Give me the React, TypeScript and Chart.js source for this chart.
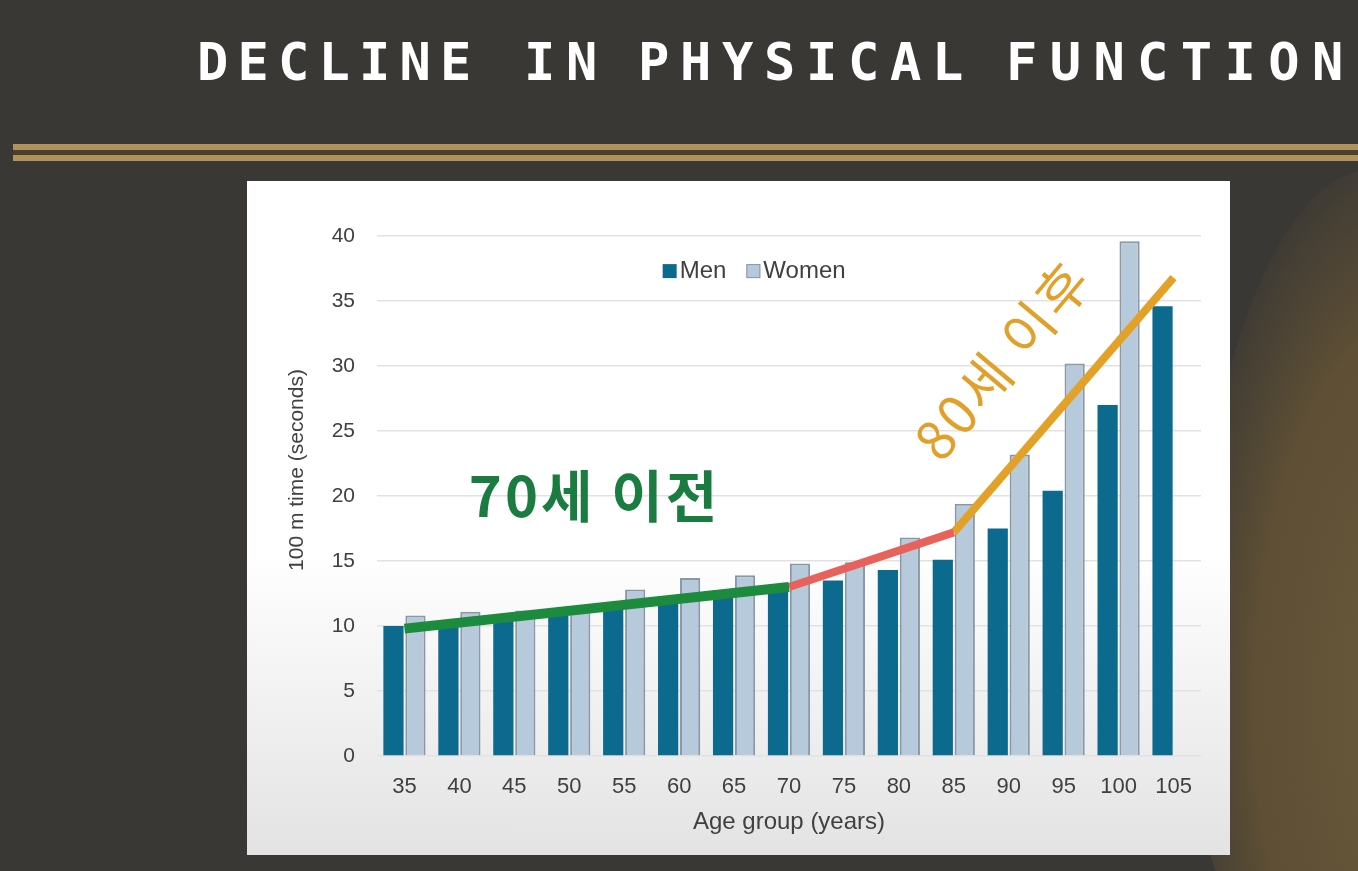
import React, { useEffect, useRef } from 'react';
import { Chart, registerables } from 'chart.js';

Chart.register(...registerables);

const ageGroups = ['35', '40', '45', '50', '55', '60', '65', '70', '75', '80', '85', '90', '95', '100', '105'];
const menTimes = [10.0, 10.4, 10.7, 11.0, 11.5, 12.0, 12.3, 12.7, 13.5, 14.3, 15.1, 17.5, 20.4, 27.0, 34.6];
const womenTimes = [10.8, 11.1, 11.2, 11.3, 12.8, 13.7, 13.9, 14.8, 14.9, 16.8, 19.4, 23.2, 30.2, 39.6, null];
// trend segments drawn over the bars (endpoints only, gaps spanned)
const before70 = [9.8, null, null, null, null, null, null, 13.0, null, null, null, null, null, null, null];
const from70to85 = [null, null, null, null, null, null, null, 13.0, null, null, 17.2, null, null, null, null];
const after80 = [null, null, null, null, null, null, null, null, null, null, 17.2, null, null, null, 36.8];
const yTicks = [0, 5, 10, 15, 20, 25, 30, 35, 40];

const MEN = '#0b6a8d';
const WOMEN = '#b6cadb';
const WOMEN_EDGE = '#8a98a6';
const TEXT = '#404040';
const FONT = '"Liberation Sans", Arial, sans-serif';

const overlayPlugin = {
    id: 'overlay',
    afterDatasetsDraw(chart: any) {
        const { ctx, scales, chartArea } = chart;
        const x = scales.x;
        const y = scales.y;
        ctx.save();

        // y axis title
        ctx.save();
        ctx.translate(chartArea.left - 80, y.getPixelForValue(22));
        ctx.rotate(-Math.PI / 2);
        ctx.font = `21px ${FONT}`;
        ctx.fillStyle = TEXT;
        ctx.textAlign = 'center';
        ctx.textBaseline = 'middle';
        ctx.fillText('100 m time (seconds)', 0, 0);
        ctx.restore();

        // legend inside the plot
        ctx.font = `24px ${FONT}`;
        ctx.textBaseline = 'middle';
        ctx.textAlign = 'left';
        const ly = y.getPixelForValue(37.3);
        let lx = x.getPixelForValue(4.7);
        ctx.fillStyle = MEN;
        ctx.fillRect(lx, ly - 7, 14, 14);
        ctx.fillStyle = TEXT;
        ctx.fillText('Men', lx + 17, ly);
        lx += 17 + ctx.measureText('Men').width + 20;
        ctx.fillStyle = WOMEN;
        ctx.strokeStyle = WOMEN_EDGE;
        ctx.lineWidth = 1;
        ctx.fillRect(lx, ly - 7, 14, 14);
        ctx.strokeRect(lx + 0.5, ly - 6.5, 13, 13);
        ctx.fillStyle = TEXT;
        ctx.fillText('Women', lx + 17, ly);

        // annotations
        ctx.font = 'bold 56px "Noto Sans CJK KR", sans-serif';
        (ctx as any).letterSpacing = '3px';
        ctx.textAlign = 'center';
        ctx.fillStyle = '#1a7c40';
        ctx.fillText('70세 이전', x.getPixelForValue(3.46), y.getPixelForValue(20.0));

        ctx.translate(x.getPixelForValue(10.89), y.getPixelForValue(30.5));
        ctx.rotate(-50 * Math.PI / 180);
        ctx.font = '54px "Noto Sans CJK KR", sans-serif';
        ctx.fillStyle = '#e0a02a';
        ctx.fillText('80세 이후', 0, 0);
        ctx.restore();
    },
};

const AgeChart: React.FC = () => {
    const canvasRef = useRef<HTMLCanvasElement>(null);

    useEffect(() => {
        if (!canvasRef.current) return;
        const ctx = canvasRef.current.getContext('2d');
        if (!ctx) return;

        const trend = (data: (number | null)[], color: string, width: number) => ({
            type: 'line' as const,
            data,
            borderColor: color,
            borderWidth: width,
            pointRadius: 0,
            spanGaps: true,
            fill: false,
            order: 0,
            borderCapStyle: 'butt' as const,
        });

        const chart = new Chart(ctx, {
            type: 'bar',
            data: {
                labels: ageGroups,
                datasets: [
                    {
                        label: 'Men',
                        data: menTimes,
                        backgroundColor: MEN,
                        borderWidth: 0,
                        order: 1,
                    },
                    {
                        label: 'Women',
                        data: womenTimes,
                        backgroundColor: WOMEN,
                        borderColor: WOMEN_EDGE,
                        borderWidth: 2,
                        order: 1,
                    },
                    trend(before70, '#1d8b3d', 10) as any,
                    trend(from70to85, '#e8625c', 8) as any,
                    trend(after80, '#e3a227', 8) as any,
                ],
            },
            options: {
                animation: false,
                responsive: false,
                maintainAspectRatio: false,
                datasets: {
                    bar: { categoryPercentage: 0.8, barPercentage: 0.92 },
                },
                layout: { padding: { left: 0, top: 55, right: 29, bottom: 0 } },
                plugins: {
                    legend: { display: false },
                    tooltip: { enabled: false },
                },
                scales: {
                    x: {
                        afterFit: (axis: any) => {
                            axis.height = 99;
                        },
                        grid: { display: false, drawTicks: false },
                        border: { display: false },
                        ticks: {
                            color: TEXT,
                            padding: 18,
                            maxRotation: 0,
                            font: { family: FONT, size: 22 },
                        },
                        title: {
                            display: true,
                            text: 'Age group (years)',
                            color: TEXT,
                            padding: { top: 0, bottom: 18 },
                            font: { family: FONT, size: 24 },
                        },
                    },
                    y: {
                        min: 0,
                        max: 40,
                        afterFit: (axis: any) => {
                            axis.width = 130;
                        },
                        afterBuildTicks: (axis: any) => {
                            axis.ticks = yTicks.map((v) => ({ value: v }));
                        },
                        grid: { color: '#e2e2e2', lineWidth: 1.5, drawTicks: false },
                        border: { display: false },
                        ticks: {
                            color: TEXT,
                            padding: 22,
                            font: { family: FONT, size: 21 },
                        },
                    },
                },
            },
            plugins: [overlayPlugin],
        });

        return () => {
            chart.destroy();
        };
    }, []);

    return <canvas ref={canvasRef} width={983} height={674} style={{ display: 'block' }} />;
};

const titleWords: [string, number, number][] = [
    ['DECLINE', 197, 9.2],
    ['IN', 524, 10.7],
    ['PHYSICAL', 638, 10.7],
    ['FUNCTION', 1006, 12.4],
];

const App: React.FC = () => {
    return (
        <div
            style={{
                position: 'absolute',
                left: 0,
                top: 0,
                width: 1358,
                height: 871,
                overflow: 'hidden',
                background: '#3a3834',
            }}
        >
            {/* brush texture on the right */}
            <div
                style={{
                    position: 'absolute',
                    left: 1190,
                    top: 170,
                    width: 260,
                    height: 760,
                    borderRadius: '70% 0 0 30%',
                    background: 'radial-gradient(ellipse at 85% 70%, #6a5a3c 0%, #5e4f35 50%, rgba(58,56,52,0) 78%)',
                }}
            />
            {titleWords.map(([w, left, spacing]) => (
                <div
                    key={w}
                    style={{
                        position: 'absolute',
                        left,
                        top: 30,
                        whiteSpace: 'nowrap',
                        color: '#ffffff',
                        fontFamily: '"DejaVu Sans Mono", monospace',
                        fontWeight: 'bold',
                        fontSize: 52,
                        letterSpacing: spacing,
                        lineHeight: '64px',
                    }}
                >
                    {w}
                </div>
            ))}
            <div style={{ position: 'absolute', left: 13, top: 144, width: 1345, height: 6, background: '#b2925c' }} />
            <div style={{ position: 'absolute', left: 13, top: 150, width: 1345, height: 5, background: '#4a3f2c' }} />
            <div style={{ position: 'absolute', left: 13, top: 155, width: 1345, height: 6, background: '#b2925c' }} />
            <div
                style={{
                    position: 'absolute',
                    left: 247,
                    top: 181,
                    width: 983,
                    height: 674,
                    background: 'linear-gradient(to bottom, #ffffff 0%, #ffffff 55%, #e3e3e3 100%)',
                }}
            >
                <AgeChart />
            </div>
        </div>
    );
};

export default App;
